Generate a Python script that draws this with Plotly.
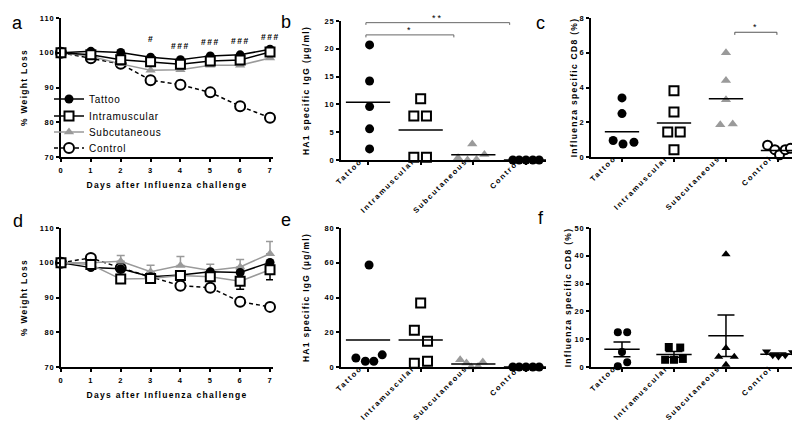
import plotly.graph_objects as go

# ---------------- data ----------------
days = [0, 1, 2, 3, 4, 5, 6, 7]
groups = ["Tattoo", "Intramuscular", "Subcutaneous", "Control"]

# panel a: % weight loss
a_tattoo = [100, 100.4, 100.1, 98.7, 98.0, 99.1, 99.4, 101.0]
a_intramuscular = [100, 99.4, 98.0, 97.4, 96.7, 97.6, 97.9, 100.2]
a_subcutaneous = [100, 99.0, 96.8, 95.0, 95.1, 96.4, 96.4, 98.5]
a_control = [100, 98.4, 96.8, 92.1, 90.8, 88.6, 84.6, 81.3]
a_sig_days = [3, 4, 5, 6, 7]
a_sig_text = ["#", "###", "###", "###", "###"]
a_sig_y = [104.0, 102.0, 103.0, 103.3, 104.4]

# panel d: % weight loss
d_tattoo = [100, 98.6, 98.3, 96.0, 96.5, 97.4, 97.2, 100.1]
d_intramuscular = [100, 99.5, 95.3, 95.5, 96.3, 96.0, 94.7, 98.0]
d_intramuscular_err = [0, 0, 0, 0, 0, 0, 2.3, 2.9]
d_subcutaneous = [100, 100.0, 100.4, 97.4, 99.2, 97.8, 98.8, 102.6]
d_subcutaneous_err = [0, 0, 1.7, 1.9, 2.6, 1.8, 2.1, 3.5]
d_control = [100, 101.4, 98.5, 96.0, 93.4, 92.8, 88.8, 87.3]

# panel b: HA1 specific IgG (ug/ml)
b_tattoo = [20.7, 14.2, 9.6, 5.6, 2.0]
b_intramuscular = [11.0, 7.9, 7.9, 0.5, 0.5]
b_subcutaneous = [0.4, 0.0, 2.9, 0.1, 1.0]
b_control = [0, 0, 0, 0, 0]
b_means = [10.4, 5.4, 0.95, 0.0]
b_brackets_x0 = [-0.04, -0.04]
b_brackets_x1 = [2.69, 1.63]
b_brackets_y = [24.7, 22.5]
b_brackets_drop = [0.4, 0.45]
b_brackets_text = ["**", "*"]

# panel c: influenza specific CD8 (%)
c_tattoo = [3.4, 2.5, 0.95, 0.75, 0.85]
c_intramuscular = [3.82, 2.59, 1.44, 1.44, 0.42]
c_subcutaneous = [6.0, 4.4, 3.3, 1.85, 1.9]
c_control = [0.68, 0.42, 0.13, 0.42, 0.5]
c_means = [1.45, 1.95, 3.35, 0.38]
c_brackets_x0 = [2.17]
c_brackets_x1 = [2.98]
c_brackets_y = [7.18]
c_brackets_drop = [0.15]
c_brackets_text = ["*"]

# panel e: HA1 specific IgG (ug/ml)
e_tattoo = [58.7, 5.2, 3.3, 3.3, 7.0]
e_intramuscular = [36.8, 21.1, 14.8, 2.1, 3.3]
e_subcutaneous = [4.2, 2.3, 0.0, 0.3, 2.9]
e_control = [0, 0, 0, 0, 0]
e_means = [15.5, 15.5, 1.7, 0.0]

# panel f: influenza specific CD8 (%)
f_tattoo = [12.5, 12.5, 5.4, 0.25, 1.7]
f_intramuscular = [7.2, 7.0, 2.6, 2.6, 2.9]
f_subcutaneous = [40.6, 6.8, 3.7, 3.7, 0.8]
f_control = [5.6, 4.2, 3.8, 4.2, 5.3]
f_means = [6.4, 4.5, 11.2, 4.6]
f_sem_hi = [9.0, 5.6, 18.7, 5.0]
f_sem_lo = [3.7, 3.5, 3.8, 4.2]

# horizontal jitter of the dots within each group (category units)
b_offsets = [[0.03, 0.03, 0.03, 0.03, 0.03], [0, -0.13, 0.11, -0.13, 0.11],
             [-0.29, -0.11, -0.02, 0.06, 0.21], [-0.25, -0.13, 0, 0.13, 0.25]]
c_offsets = [[0, 0, -0.17, 0.02, 0.23], [0, 0, -0.12, 0.12, 0],
             [0, 0, 0, -0.11, 0.13], [-0.2, -0.06, 0.03, 0.14, 0.24]]
e_offsets = [[0.02, -0.23, -0.05, 0.11, 0.27], [0, -0.12, 0.13, -0.12, 0.13],
             [-0.25, -0.13, -0.04, 0.09, 0.18], [-0.25, -0.13, 0, 0.13, 0.25]]
f_offsets = [[-0.08, 0.1, 0, -0.08, 0.1], [-0.1, 0.12, -0.17, 0.0, 0.17],
             [0, 0, -0.14, 0.16, 0], [-0.22, -0.1, 0.01, 0.14, 0.28]]

# ---------------- styles ----------------
BLACK = "black"
GREY = "#9a9a9a"
FONT = "Liberation Sans"
W = 800
H = 424

fig = go.Figure()


def sp(text, px):
    """letter-spaced text (GraphPad style tracking)"""
    return f'<span style="letter-spacing:{px}px">{text}</span>'


def px_x(p):
    return p / W


def px_y(p):
    return 1 - p / H


tick_font = dict(family=FONT, size=7.5, color=BLACK, weight="bold")
cat_font = dict(family=FONT, size=7.5, color=BLACK, weight="bold")
title_font = dict(family=FONT, size=8.5, color=BLACK, weight="bold")
axis_common = dict(showgrid=False, zeroline=False, showline=True, linecolor=BLACK,
                   linewidth=1.5, ticks="outside", ticklen=3, tickwidth=1.5,
                   tickcolor=BLACK, automargin=False, tickfont=tick_font)

# panel domains (pixels)
dom = {
    "a": ((53, 265), (10, 149)),
    "b": ((333, 538), (13, 152)),
    "c": ((583, 797), (10, 149)),
    "d": ((53, 265), (220, 359)),
    "e": ((333, 538), (220, 359)),
    "f": ((583, 797), (220, 359)),
}
names = {"a": "", "b": "2", "c": "3", "d": "4", "e": "5", "f": "6"}


def xdom(k):
    return [px_x(dom[k][0][0]), px_x(dom[k][0][1])]


def ydom(k):
    return [px_y(dom[k][1][1]), px_y(dom[k][1][0])]


def num_ticks(vals):
    return [sp(str(v), 1) for v in vals]


legend_ids = ["legend", "legend2", "legend3", "legend4"]
legend_y_px = [91, 108, 124, 140]


# ---- line panels a and d ----
def line_panel(key, series, showlegend, errs=None):
    xa = "x" + names[key]
    ya = "y" + names[key]
    styles = {
        "Tattoo": dict(line=dict(color=BLACK, width=1.5),
                       marker=dict(symbol="circle", size=9, color=BLACK)),
        "Intramuscular": dict(line=dict(color=BLACK if key == "a" else GREY, width=1.5),
                              marker=dict(symbol="square", size=9, color="white",
                                          line=dict(color=BLACK, width=2))),
        "Subcutaneous": dict(line=dict(color=GREY, width=1.5),
                             marker=dict(symbol="triangle-up", size=9, color=GREY)),
        "Control": dict(line=dict(color=BLACK, width=1.5, dash="4px,3px"),
                        marker=dict(symbol="circle", size=10, color="white",
                                    line=dict(color=BLACK, width=2))),
    }
    for g in ["Control", "Subcutaneous", "Tattoo", "Intramuscular"]:
        kw = dict(styles[g])
        if errs and g in errs:
            kw["error_y"] = errs[g]
        fig.add_trace(go.Scatter(x=days, y=series[g], mode="lines+markers",
                                 name=sp(g, 0.7), xaxis=xa, yaxis=ya, cliponaxis=False,
                                 showlegend=showlegend, legend=legend_ids[groups.index(g)],
                                 **kw))


line_panel("a", {"Tattoo": a_tattoo, "Intramuscular": a_intramuscular,
                 "Subcutaneous": a_subcutaneous, "Control": a_control}, True)
line_panel("d", {"Tattoo": d_tattoo, "Intramuscular": d_intramuscular,
                 "Subcutaneous": d_subcutaneous, "Control": d_control}, False,
           errs={"Intramuscular": dict(type="data", symmetric=False, array=[0] * 8,
                                       arrayminus=d_intramuscular_err, color=BLACK,
                                       thickness=1.5, width=4),
                 "Subcutaneous": dict(type="data", symmetric=False, array=d_subcutaneous_err,
                                      arrayminus=[0] * 8, color=GREY, thickness=1.5, width=4)})

for k in ["a", "d"]:
    n = names[k]
    fig.layout["xaxis" + n] = dict(axis_common, domain=xdom(k), range=[0, 7.1],
                                   tickvals=days, ticktext=num_ticks(days), anchor="y" + n,
                                   ticklabelstandoff=2,
                                   title=dict(text=sp("Days after Influenza challenge", 1.3),
                                              font=title_font, standoff=8))
    yt = [70, 80, 90, 100, 110]
    fig.layout["yaxis" + n] = dict(axis_common, domain=ydom(k), range=[70, 110],
                                   tickvals=yt, ticktext=num_ticks(yt), anchor="x" + n,
                                   title=dict(text=sp("% Weight Loss", 1.3), font=title_font,
                                              standoff=10))

for d_, t_, y_ in zip(a_sig_days, a_sig_text, a_sig_y):
    fig.add_annotation(x=d_, y=y_, xref="x", yref="y", text=sp(t_, 1.5), showarrow=False,
                       font=dict(family=FONT, size=8.5, color=BLACK, weight="bold"))


# ---- scatter panels ----
def dot_panel(key, data, offsets, means, hw, styles, ytitle, yrange, ytick, xrange,
              tstandoff, sem=None):
    n = names[key]
    xa, ya = "x" + n, "y" + n
    for i, g in enumerate(groups):
        xs = [i + o for o in offsets[i]]
        fig.add_trace(go.Scatter(x=xs, y=data[i], mode="markers", xaxis=xa, yaxis=ya,
                                 marker=styles[i], cliponaxis=False, showlegend=False))
        fig.add_trace(go.Scatter(x=[i - hw, i + hw], y=[means[i], means[i]], mode="lines",
                                 line=dict(color=BLACK, width=1.5), xaxis=xa, yaxis=ya,
                                 cliponaxis=False, showlegend=False))
        if sem:
            hi, lo = sem
            fig.add_trace(go.Scatter(x=[i], y=[means[i]], mode="markers",
                                     marker=dict(size=1, color=BLACK), xaxis=xa, yaxis=ya,
                                     error_y=dict(type="data", symmetric=False,
                                                  array=[hi[i] - means[i]],
                                                  arrayminus=[means[i] - lo[i]],
                                                  color=BLACK, thickness=1.5, width=8.5),
                                     cliponaxis=False, showlegend=False))
    fig.layout["xaxis" + n] = dict(axis_common, domain=xdom(key), range=xrange,
                                   tickvals=[0, 1, 2, 3], ticktext=[sp(g, 1.8) for g in groups],
                                   tickangle=-45, tickfont=cat_font, anchor=ya,
                                   ticklabelstandoff=-11, ticklabelshift=-8)
    fig.layout["yaxis" + n] = dict(axis_common, domain=ydom(key), range=yrange,
                                   tickvals=ytick, ticktext=num_ticks(ytick), anchor=xa,
                                   title=dict(text=sp(ytitle, 1.3), font=title_font,
                                              standoff=tstandoff))


def brackets(key, x0s, x1s, ys, drops, texts, color):
    n = names[key]
    xa, ya = "x" + n, "y" + n
    for x0, x1, y, dr, t in zip(x0s, x1s, ys, drops, texts):
        fig.add_trace(go.Scatter(x=[x0, x0, x1, x1], y=[y - dr, y, y, y - dr], mode="lines",
                                 line=dict(color=color, width=1), xaxis=xa, yaxis=ya,
                                 cliponaxis=False, showlegend=False))
        fig.add_annotation(x=(x0 + x1) / 2, y=y, xref=xa, yref=ya, text=sp(t, 2),
                           showarrow=False, yanchor="bottom", yshift=-2,
                           font=dict(family=FONT, size=9, color=BLACK))


open_sq = dict(symbol="square", size=9, color="white", line=dict(color=BLACK, width=2))
open_ci = dict(symbol="circle", size=9, color="white", line=dict(color=BLACK, width=2))
fill_ci = dict(symbol="circle", size=9, color=BLACK)
grey_tri = dict(symbol="triangle-up", size=9, color=GREY)

xr_be = [-0.513, 3.38]
xr_cf = [-0.596, 3.52]

dot_panel("b", [b_tattoo, b_intramuscular, b_subcutaneous, b_control], b_offsets, b_means,
          0.42, [fill_ci, open_sq, grey_tri, fill_ci], "HA1 specific IgG (µg/ml)",
          [0, 25], [0, 5, 10, 15, 20, 25], xr_be, 13)
brackets("b", b_brackets_x0, b_brackets_x1, b_brackets_y, b_brackets_drop,
         b_brackets_text, "#666666")

dot_panel("c", [c_tattoo, c_intramuscular, c_subcutaneous, c_control], c_offsets, c_means,
          0.33, [fill_ci, open_sq, grey_tri, open_ci], "Influenza specific CD8 (%)",
          [0, 8], [0, 2, 4, 6, 8], xr_cf, 1)
brackets("c", c_brackets_x0, c_brackets_x1, c_brackets_y, c_brackets_drop,
         c_brackets_text, "#555555")

dot_panel("e", [e_tattoo, e_intramuscular, e_subcutaneous, e_control], e_offsets, e_means,
          0.42, [fill_ci, open_sq, grey_tri, fill_ci], "HA1 specific IgG (µg/ml)",
          [0, 80], [0, 20, 40, 60, 80], xr_be, 13)

dot_panel("f", [f_tattoo, f_intramuscular, f_subcutaneous, f_control], f_offsets, f_means,
          0.34,
          [dict(symbol="circle", size=8, color=BLACK),
           dict(symbol="square", size=8, color=BLACK),
           dict(symbol="triangle-up", size=8, color=BLACK),
           dict(symbol="triangle-down", size=8, color=BLACK)],
          "Influenza specific CD8 (%)", [0, 50], [0, 10, 20, 30, 40, 50], xr_cf, 1,
          sem=(f_sem_hi, f_sem_lo))

# panel letters
for letter, (lx, ly) in {"a": (9, 15), "b": (278, 14), "c": (532, 15),
                         "d": (10, 213), "e": (278, 212), "f": (533, 210)}.items():
    fig.add_annotation(x=px_x(lx), y=px_y(ly), xref="paper", yref="paper", text=letter,
                       showarrow=False, xanchor="center", yanchor="middle",
                       font=dict(family=FONT, size=18, color=BLACK))

legend_common = dict(xanchor="left", yanchor="middle", bgcolor="rgba(0,0,0,0)",
                     font=dict(family=FONT, size=10, color=BLACK), itemwidth=30)
layout_legends = {lid: dict(legend_common, x=px_x(41), y=px_y(yy))
                  for lid, yy in zip(legend_ids, legend_y_px)}

fig.update_layout(
    width=W, height=H, autosize=False,
    margin=dict(l=0, r=0, t=0, b=0),
    paper_bgcolor="white", plot_bgcolor="white",
    showlegend=True,
    **layout_legends,
)

fig.write_html("out.html")
